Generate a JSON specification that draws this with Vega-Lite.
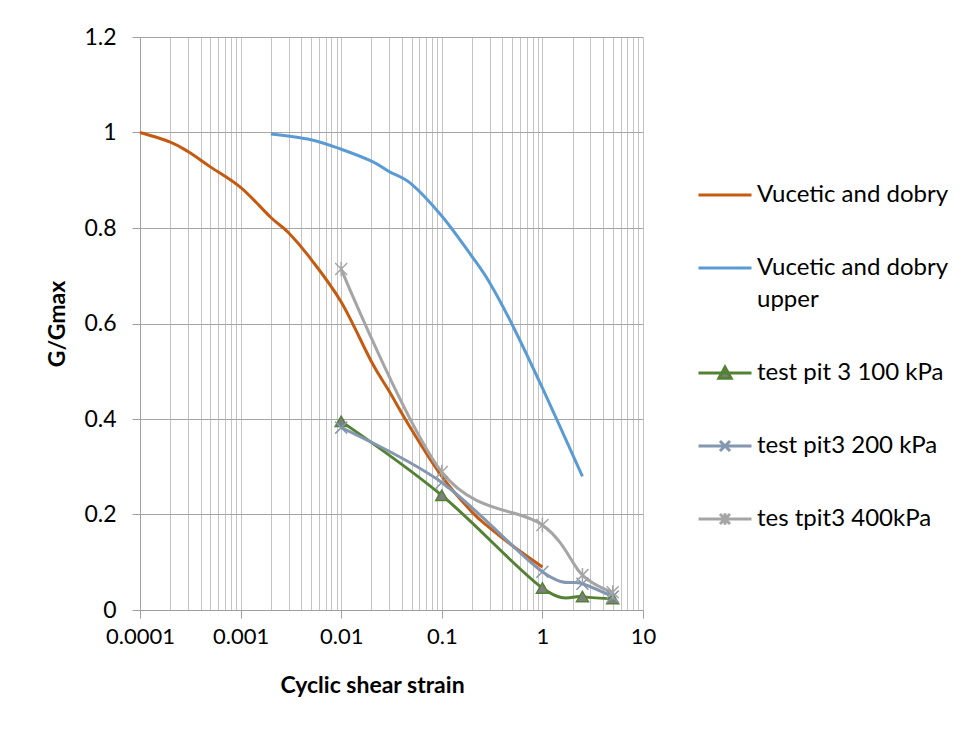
{
  "$schema": "https://vega.github.io/schema/vega-lite/v6.json",
  "width": 503,
  "height": 573,
  "autosize": "none",
  "padding": {"left": 140, "top": 37, "right": 325, "bottom": 119},
  "background": "white",
  "config": {"view": {"stroke": null}, "font": "Lato"},
  "data": {"values": [
    {"series": "Vucetic and dobry", "x": 0.0001, "y": 1.0},
    {"series": "Vucetic and dobry", "x": 0.0002, "y": 0.98},
    {"series": "Vucetic and dobry", "x": 0.0003, "y": 0.96},
    {"series": "Vucetic and dobry", "x": 0.0005, "y": 0.928},
    {"series": "Vucetic and dobry", "x": 0.001, "y": 0.885},
    {"series": "Vucetic and dobry", "x": 0.002, "y": 0.822},
    {"series": "Vucetic and dobry", "x": 0.003, "y": 0.79},
    {"series": "Vucetic and dobry", "x": 0.005, "y": 0.735},
    {"series": "Vucetic and dobry", "x": 0.01, "y": 0.645},
    {"series": "Vucetic and dobry", "x": 0.02, "y": 0.52},
    {"series": "Vucetic and dobry", "x": 0.03, "y": 0.458},
    {"series": "Vucetic and dobry", "x": 0.05, "y": 0.378},
    {"series": "Vucetic and dobry", "x": 0.1, "y": 0.28},
    {"series": "Vucetic and dobry", "x": 0.2, "y": 0.205},
    {"series": "Vucetic and dobry", "x": 0.3, "y": 0.172},
    {"series": "Vucetic and dobry", "x": 0.5, "y": 0.135},
    {"series": "Vucetic and dobry", "x": 1, "y": 0.09},
    {"series": "Vucetic and dobry upper", "x": 0.002, "y": 0.997},
    {"series": "Vucetic and dobry upper", "x": 0.005, "y": 0.985},
    {"series": "Vucetic and dobry upper", "x": 0.01, "y": 0.965},
    {"series": "Vucetic and dobry upper", "x": 0.02, "y": 0.94},
    {"series": "Vucetic and dobry upper", "x": 0.03, "y": 0.918},
    {"series": "Vucetic and dobry upper", "x": 0.05, "y": 0.892},
    {"series": "Vucetic and dobry upper", "x": 0.1, "y": 0.825},
    {"series": "Vucetic and dobry upper", "x": 0.2, "y": 0.74},
    {"series": "Vucetic and dobry upper", "x": 0.3, "y": 0.685},
    {"series": "Vucetic and dobry upper", "x": 0.5, "y": 0.598},
    {"series": "Vucetic and dobry upper", "x": 1, "y": 0.465},
    {"series": "Vucetic and dobry upper", "x": 2.5, "y": 0.28},
    {"series": "test pit 3 100 kPa", "x": 0.01, "y": 0.395},
    {"series": "test pit 3 100 kPa", "x": 0.1, "y": 0.24},
    {"series": "test pit 3 100 kPa", "x": 1, "y": 0.046},
    {"series": "test pit 3 100 kPa", "x": 2.5, "y": 0.028},
    {"series": "test pit 3 100 kPa", "x": 5, "y": 0.024},
    {"series": "test pit3 200 kPa", "x": 0.01, "y": 0.382},
    {"series": "test pit3 200 kPa", "x": 0.1, "y": 0.267},
    {"series": "test pit3 200 kPa", "x": 1, "y": 0.08},
    {"series": "test pit3 200 kPa", "x": 2.5, "y": 0.055},
    {"series": "test pit3 200 kPa", "x": 5, "y": 0.028},
    {"series": "tes tpit3 400kPa", "x": 0.01, "y": 0.714},
    {"series": "tes tpit3 400kPa", "x": 0.1, "y": 0.289},
    {"series": "tes tpit3 400kPa", "x": 1, "y": 0.178},
    {"series": "tes tpit3 400kPa", "x": 2.5, "y": 0.073},
    {"series": "tes tpit3 400kPa", "x": 5, "y": 0.037}
  ]},
  "encoding": {
    "x": {
      "field": "x", "type": "quantitative",
      "scale": {"type": "log", "domain": [0.0001, 10], "nice": false},
      "axis": {
        "values": [0.0001,0.0002,0.0003,0.0004,0.0005,0.0006,0.0007,0.0008,0.0009,0.001,0.002,0.003,0.004,0.005,0.006,0.007,0.008,0.009,0.01,0.02,0.03,0.04,0.05,0.06,0.07,0.08,0.09,0.1,0.2,0.3,0.4,0.5,0.6,0.7,0.8,0.9,1,2,3,4,5,6,7,8,9,10],
        "format": "~g",
        "labelExpr": "abs(log(datum.value)/LN10 - round(log(datum.value)/LN10)) < 0.001 ? datum.label : ''",
        "tickOpacity": {"condition": {"test": "abs(log(datum.value)/LN10 - round(log(datum.value)/LN10)) < 0.001", "value": 1}, "value": 0},
        "grid": true, "gridColor": "#c4c4c4", "gridWidth": 1,
        "domainColor": "#a0a0a0", "tickColor": "#a0a0a0", "tickSize": 8,
        "labelFontSize": 22, "labelPadding": 8, "labelColor": "#000", "labelFont": "Lato",
        "labelFlush": false, "labelOverlap": false,
        "title": "Cyclic shear strain", "titleFontSize": 23, "titleFontWeight": "bold", "titleFont": "Lato",
        "titleColor": "#000", "titlePadding": 27, "titleX": 232
      }
    },
    "y": {
      "field": "y", "type": "quantitative",
      "scale": {"domain": [0, 1.2], "nice": false},
      "axis": {
        "values": [0, 0.2, 0.4, 0.6, 0.8, 1, 1.2],
        "format": "~g",
        "grid": true, "gridColor": "#a6a6a6", "gridWidth": 1,
        "domainColor": "#a0a0a0", "tickColor": "#a0a0a0", "tickSize": 8,
        "labelFontSize": 23, "labelPadding": 16, "labelColor": "#000", "labelFont": "Lato",
        "title": "G/Gmax", "titleFontSize": 23, "titleFontWeight": "bold", "titleFont": "Lato",
        "titleColor": "#000", "titlePadding": 14
      }
    }
  },
  "layer": [
    {
      "mark": {"type": "line", "interpolate": "cardinal", "tension": 0, "strokeWidth": 3},
      "encoding": {
        "stroke": {
          "field": "series", "type": "nominal",
          "scale": {
            "domain": ["Vucetic and dobry", "Vucetic and dobry upper", "test pit 3 100 kPa", "test pit3 200 kPa", "tes tpit3 400kPa"],
            "range": ["#C55A11", "#5B9BD5", "#548235", "#8497B0", "#A5A5A5"]
          },
          "legend": {
            "title": null,
            "orient": "none", "legendX": 557, "legendY": 130,
            "labelFontSize": 24, "labelFont": "Lato", "labelColor": "#000",
            "labelLimit": 400, "labelOffset": 4,
            "symbolSize": 2809, "symbolStrokeWidth": 3,
            "rowPadding": 33,
            "labelExpr": "datum.label == 'Vucetic and dobry upper' ? ['Vucetic and dobry', 'upper'] : datum.label",
            "encode": {
              "labels": {"update": {"lineHeight": {"value": 32}}},
              "symbols": {
                "update": {
                  "shape": {"signal": "datum.value == 'test pit 3 100 kPa' ? 'M-1,0L1,0M-0.23,0.2L0,-0.22L0.23,0.2Z' : datum.value == 'test pit3 200 kPa' ? 'M-1,0L1,0M-0.19,-0.19L0.19,0.19M-0.19,0.19L0.19,-0.19' : datum.value == 'tes tpit3 400kPa' ? 'M-1,0L1,0M-0.19,-0.19L0.19,0.19M-0.19,0.19L0.19,-0.19M0,-0.22L0,0.22' : 'M-1,0L1,0'"},
                  "fill": {"signal": "datum.value == 'test pit 3 100 kPa' ? '#7f7f7f' : 'transparent'"},
                  "opacity": {"value": 1}
                }
              }
            }
          }
        }
      }
    },
    {
      "transform": [{"filter": "indexof(datum.series, 'kPa') >= 0"}],
      "mark": {"type": "point", "strokeWidth": 1.5, "opacity": 1, "size": 144},
      "encoding": {
        "stroke": {"field": "series", "type": "nominal", "legend": null},
        "shape": {
          "field": "series", "type": "nominal",
          "scale": {
            "domain": ["test pit 3 100 kPa", "test pit3 200 kPa", "tes tpit3 400kPa"],
            "range": ["triangle-up", "M-1,-1L1,1M-1,1L1,-1", "M-1,-1L1,1M-1,1L1,-1M0,-1.2L0,1.2"]
          },
          "legend": null
        },
        "fill": {"condition": {"test": "datum.series === 'test pit 3 100 kPa'", "value": "#7f7f7f"}, "value": "transparent"}
      }
    }
  ]
}
